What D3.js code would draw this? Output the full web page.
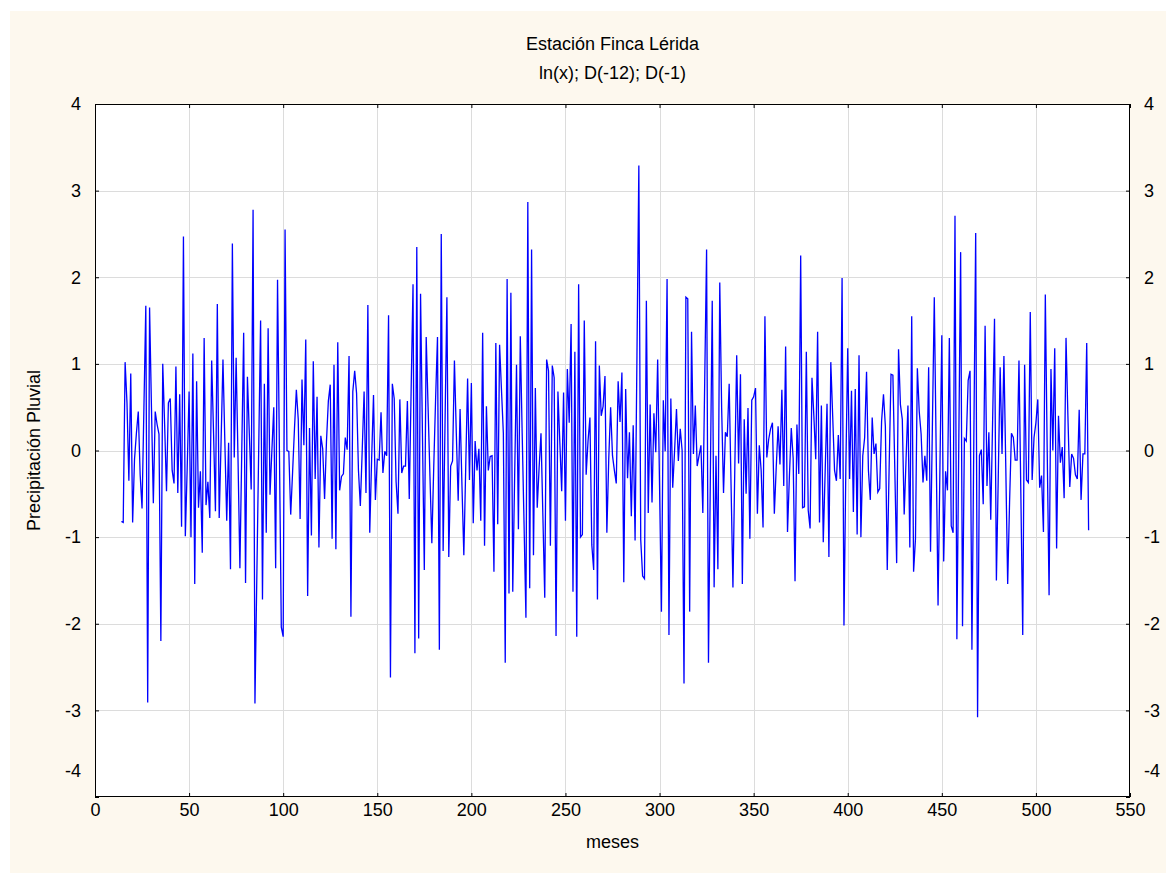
<!DOCTYPE html>
<html>
<head>
<meta charset="utf-8">
<script src="https://cdn.jsdelivr.net/npm/d3@7"></script>
<style>
  html, body { margin: 0; padding: 0; background: #ffffff; }
  svg { display: block; }
  text { font-family: "Liberation Sans", Arial, sans-serif; fill: #000; }
</style>
</head>
<body>
<svg id="chart" width="1176" height="880"></svg>
<script>
// ---- data ----
const titleLines = ["Estación Finca Lérida", "ln(x); D(-12); D(-1)"];
const xLabel = "meses";
const yLabel = "Precipitación Pluvial";
const xTicks = [0, 50, 100, 150, 200, 250, 300, 350, 400, 450, 500, 550];
const yTicks = [-4, -3, -2, -1, 0, 1, 2, 3, 4];
const firstMonth = 14;
const values = [
  // months 14-59
  -0.82, -0.83, 1.02, 0.55, -0.35, 0.89, -0.83, -0.1, 0.2, 0.45,
  -0.28, -0.67, 0.5, 1.67, -2.91, 1.65, 0.5, -0.61, 0.45, 0.3,
  0.19, -2.2, 1.0, 0.3, -0.47, 0.55, 0.6, -0.23, -0.38, 0.97,
  -0.49, 0.65, -0.88, 2.47, -0.99, -0.2, 0.68, -1.0, 1.12, -1.54,
  0.8, -0.66, -0.24, -1.18, 1.3, -0.63,
  // months 60-107
  -0.36, -0.78, 1.04, 0.2, -0.70, 1.69, -0.78, 0.1, 1.05, 0.1,
  -0.81, 0.09, -1.37, 2.39, -0.08, 1.07, -0.1, -1.36, 0.0, 1.36,
  -1.53, 0.85, 0.2, -0.45, 2.78, -2.92, -1.45, 0.03, 1.5, -1.72,
  0.77, -0.95, 1.41, -0.51, 0.0, 0.5, -1.36, 1.97, 0.0, -2.04,
  -2.15, 2.55, 0.0, -0.01, -0.74, -0.25, 0.25, 0.70,
  // months 108-156
  0.36, -0.79, 0.82, 0.06, 1.28, -1.68, 0.26, -0.98, 1.03, -0.33,
  0.62, -1.12, 0.17, 0.02, -0.56, 0.1, 0.57, 0.76, -1.02, 0.99,
  -1.14, 1.25, -0.46, -0.3, -0.27, 0.15, 0.01, 1.09, -1.92, 0.68,
  0.92, 0.66, -0.23, -0.64, 0.0, 0.68, -0.49, 1.68, -0.95, -0.1,
  0.64, -0.57, -0.1, -0.11, 0.44, -0.26, -0.01, -0.06, 1.56,
  // months 157-204
  -2.62, 0.77, 0.6, -0.36, -0.73, 0.59, -0.26, -0.18, -0.18, 0.57,
  -0.56, 0.7, 1.92, -2.34, 2.35, -2.17, 1.81, 0.2, -1.38, 1.31,
  0.5, -0.3, -1.07, -0.2, 0.6, 1.31, -2.3, 2.5, -1.16, 0.3,
  1.77, -1.23, -0.18, -0.12, 1.04, 0.2, -0.58, 0.48, -0.4, -1.21,
  -0.2, 0.83, -0.34, 0.78, -0.84, 0.11, -0.23, 0.02,
  // months 205-251
  -0.81, 1.36, -1.1, 0.51, -0.23, -0.07, -0.06, -1.4, 1.24, -0.85,
  1.22, 0.7, 0.2, -2.45, 1.98, -1.65, 1.82, -1.63, -0.3, 0.99,
  -0.91, 1.32, 0.2, -0.85, -1.93, 2.87, -1.59, 2.32, -1.21, 0.72,
  -0.66, -0.2, 0.2, -0.75, -1.7, 1.05, 0.92, -1.1, 0.98, 0.84,
  -2.14, 0.68, 0.1, -0.47, 0.67, -0.81, 0.94,
  // months 252-299
  0.32, 1.46, -1.63, 1.14, -2.15, 1.92, -1.0, -0.97, 1.5, -0.28,
  0.11, 0.38, -1.09, -1.38, 1.26, -1.72, 0.98, 0.4, 0.51, 0.86,
  -0.95, -0.1, 0.5, -0.06, -0.23, -0.38, 0.8, 0.33, 0.9, -1.52,
  0.71, -0.32, 0.21, -0.76, 0.29, -1.04, 1.1, 3.29, -1.03, -1.45,
  -1.48, 1.73, -0.72, 0.53, -0.6, 0.43, -0.02, 1.05,
  // months 300-347
  -0.4, -1.86, 0.58, -0.01, 1.98, -2.13, 0.6, -0.43, 0.0, 0.48,
  -0.12, 0.25, 0.0, -2.69, 1.77, 1.75, -1.86, 1.37, -0.04, 0.52,
  -0.18, -0.06, 0.06, -0.72, 0.8, 2.32, -2.45, -0.3, 1.73, -1.58,
  -0.06, -1.37, 1.94, 0.49, -0.49, 0.21, 0.16, 0.77, -0.4, -1.58,
  -0.2, 1.1, -0.15, 0.88, -1.54, 0.36, -0.5, 0.49,
  // months 348-395
  -1.02, 0.58, 0.62, 0.72, -0.73, 0.06, -0.23, -0.89, 1.55, -0.08,
  0.13, 0.25, 0.32, -0.73, -0.2, 0.28, -0.16, 0.7, -0.41, 1.2,
  -0.94, -0.3, 0.26, -0.09, -1.51, 0.3, -0.27, 2.25, -0.66, -0.65,
  1.14, -0.69, -0.9, 0.84, 0.4, -0.1, 1.37, -0.83, 0.52, -1.06,
  -0.25, 0.54, -1.23, 1.02, 0.4, -0.23, -0.35, 0.18,
  // months 396-443
  -0.33, 1.99, -2.02, -0.2, 1.18, -0.33, 0.69, -0.71, 0.71, -0.97,
  1.1, -1.0, -0.06, 0.15, 0.91, -0.23, -0.57, 0.38, -0.04, 0.08,
  -0.48, -0.44, 0.34, 0.65, 0.28, -1.38, -0.2, 0.88, 0.87, -0.2,
  -1.3, 1.17, 0.53, 0.36, -0.74, -0.1, 0.52, -1.12, 1.55, -1.4,
  -1.02, 0.95, 0.45, 0.19, -0.37, -0.06, -0.35, 0.96,
  // months 444-491
  -1.17, 0.3, 1.77, 0.0, -1.79, -0.2, 1.33, -1.28, -0.24, -0.46,
  1.3, -0.87, -0.95, 2.71, -2.18, 0.05, 2.29, -2.03, 0.14, 0.11,
  0.81, 0.92, -2.3, 0.1, 2.51, -3.08, -0.06, 0.01, -0.62, 1.44,
  -0.41, 0.21, -0.8, 0.35, 1.52, -1.5, -0.3, 0.96, -0.04, 1.09,
  -0.2, -1.54, -0.6, 0.2, 0.15, -0.11, -0.11, 1.04,
  // months 492-528
  -0.5, -2.13, 0.99, -0.34, -0.37, 1.6, -0.34, 0.15, 0.32, 0.59,
  -0.43, -0.29, -0.94, 1.8, 0.0, -1.67, 0.94, 0.0, 1.18, -1.13,
  0.4, -0.14, 0.04, -0.55, 1.3, 0.4, -0.42, -0.04, -0.09, -0.28,
  -0.33, 0.47, -0.57, -0.04, -0.04, 1.24, -0.92
];
const months = values.map((v, i) => firstMonth + i);

// ---- layout ----
const W = 1176, H = 880;
const plot = { left: 95, top: 104, right: 1130, bottom: 797 };
const svg = d3.select("#chart");

svg.append("rect").attr("x", 10).attr("y", 11).attr("width", W - 20).attr("height", H - 18)
  .attr("fill", "#fdf8ee");
svg.append("rect").attr("x", plot.left).attr("y", plot.top)
  .attr("width", plot.right - plot.left).attr("height", plot.bottom - plot.top)
  .attr("fill", "#ffffff");

const x = d3.scaleLinear().domain([0, 550]).range([plot.left, plot.right]);
const y = d3.scaleLinear().domain([-4, 4]).range([plot.bottom, plot.top]);

// grid
const grid = svg.append("g").attr("stroke", "#dcdcdc").attr("stroke-width", 1);
grid.selectAll("line.v").data(xTicks.slice(1, -1)).join("line")
  .attr("x1", d => Math.round(x(d)) + 0.5).attr("x2", d => Math.round(x(d)) + 0.5)
  .attr("y1", plot.top).attr("y2", plot.bottom);
grid.selectAll("line.h").data(yTicks.slice(1, -1)).join("line")
  .attr("y1", d => Math.round(y(d)) + 0.5).attr("y2", d => Math.round(y(d)) + 0.5)
  .attr("x1", plot.left).attr("x2", plot.right);

// axes (ticks inward)
const fmt = d => d < 0 ? "-" + Math.abs(d) : String(d);
const axB = svg.append("g").attr("transform", `translate(0,${plot.bottom})`)
  .call(d3.axisBottom(x).tickValues(xTicks).tickSize(-4).tickPadding(6).tickFormat(fmt));
const axT = svg.append("g").attr("transform", `translate(0,${plot.top})`)
  .call(d3.axisTop(x).tickValues(xTicks).tickSize(-4).tickFormat(""));
const axL = svg.append("g").attr("transform", `translate(${plot.left},0)`)
  .call(d3.axisLeft(y).tickValues(yTicks).tickSize(-4).tickPadding(14).tickFormat(fmt));
const axR = svg.append("g").attr("transform", `translate(${plot.right},0)`)
  .call(d3.axisRight(y).tickValues(yTicks).tickSize(-4).tickPadding(14).tickFormat(fmt));
[axB, axT, axL, axR].forEach(a => {
  a.select(".domain").remove();
  a.selectAll(".tick line").attr("stroke", "#000");
  a.selectAll(".tick text").attr("font-size", 18).attr("font-family", "Liberation Sans, Arial, sans-serif");
});
// lowest y label is lifted clear of the x-axis labels, as in the original
[axL, axR].forEach(a => a.selectAll(".tick text").filter(d => d === -4).attr("y", -26));

// series
const line = d3.line().x((d, i) => x(months[i])).y(d => y(d));
svg.append("path").datum(values).attr("d", line)
  .attr("fill", "none").attr("stroke", "#0000ff").attr("stroke-width", 1.3)
  .attr("stroke-linejoin", "miter");

// frame
svg.append("rect").attr("x", plot.left + 0.5).attr("y", plot.top + 0.5)
  .attr("width", plot.right - plot.left - 1).attr("height", plot.bottom - plot.top - 1)
  .attr("fill", "none").attr("stroke", "#000").attr("stroke-width", 1);

// titles
svg.selectAll("text.title").data(titleLines).join("text")
  .attr("class", "title").attr("x", (plot.left + plot.right) / 2)
  .attr("y", (d, i) => 50 + i * 29).attr("text-anchor", "middle").attr("font-size", 18)
  .text(d => d);
svg.append("text").attr("x", (plot.left + plot.right) / 2).attr("y", 848)
  .attr("text-anchor", "middle").attr("font-size", 18).text(xLabel);
svg.append("text").attr("transform", `translate(40,${(plot.top + plot.bottom) / 2}) rotate(-90)`)
  .attr("text-anchor", "middle").attr("font-size", 18).text(yLabel);
</script>
</body>
</html>
